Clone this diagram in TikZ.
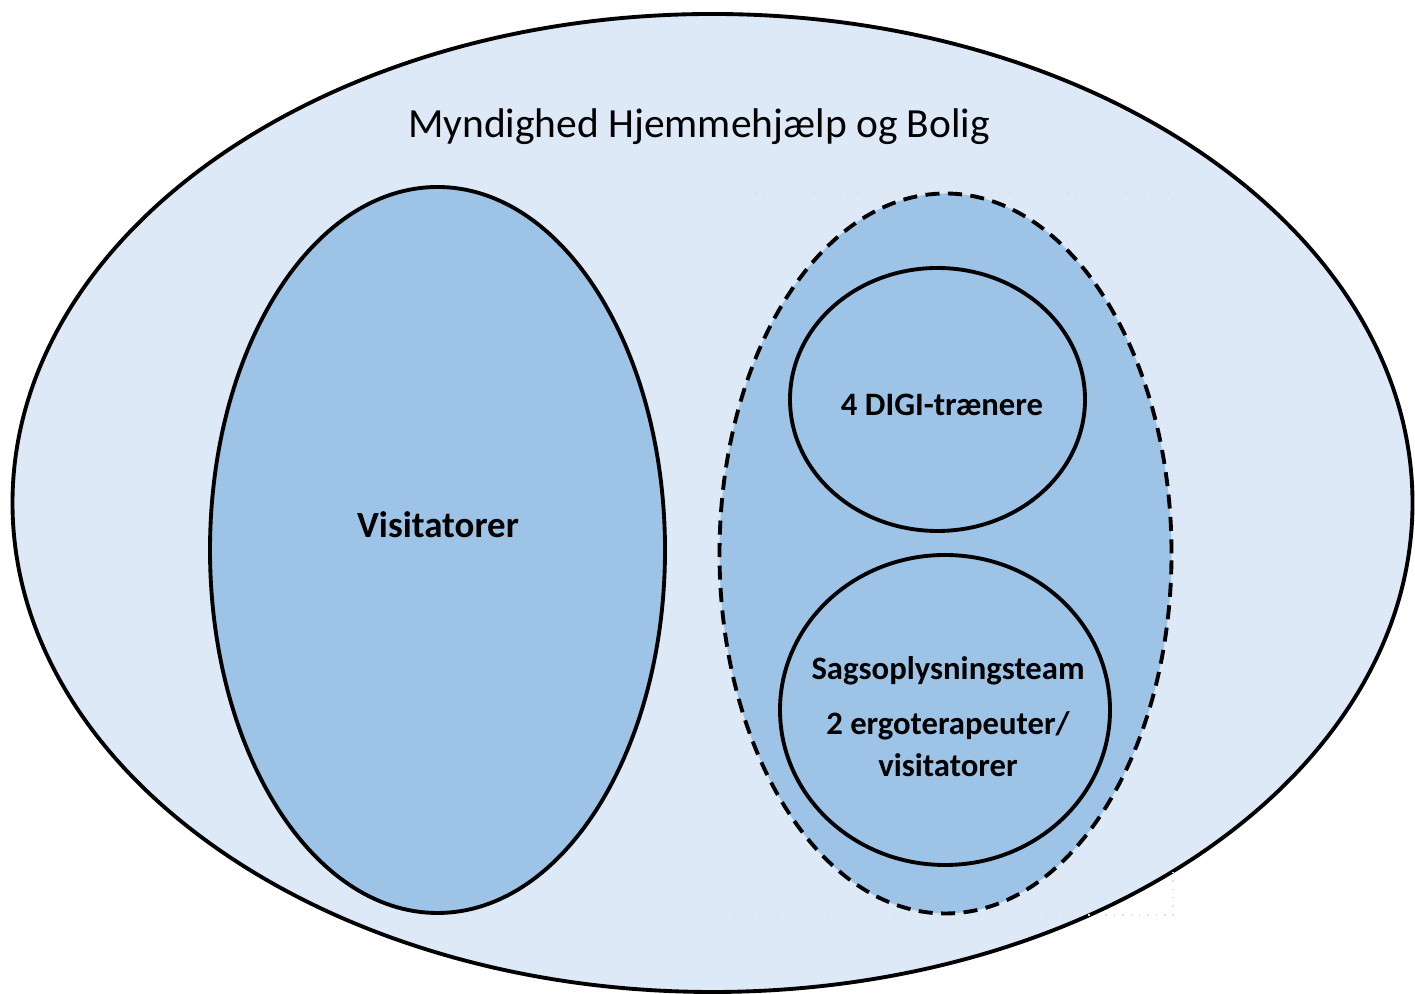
\documentclass[tikz,border=0pt]{standalone}
\usepackage{fontspec}
\setmainfont{Carlito}
\definecolor{lysblaa}{HTML}{DDE9F6}
\definecolor{mellemblaa}{HTML}{9DC3E6}
\newcommand{\lbl}{\fontsize{10.5}{13.5}\selectfont\bfseries}
\newcommand{\lille}{\fontsize{9.3}{13.4}\selectfont\bfseries}

\begin{document}
\begin{tikzpicture}
  \useasboundingbox (0,0) rectangle (14.15,9.94);
  \tikzset{ring/.style={draw=black,line width=1.1pt},
           stiplet/.style={ring,dash pattern=on 4pt off 2.4pt}}
  % ydre ellipse
  \draw[ring,fill=lysblaa] (7.125,4.91) ellipse (7.00 and 4.89);
  \draw[black!12,dotted] (7.18,0.79) rectangle (11.73,8.01);
  % venstre og hoejre
  \draw[ring,fill=mellemblaa] (4.375,4.44) ellipse (2.275 and 3.63);
  \draw[stiplet,fill=mellemblaa] (9.455,4.405) ellipse (2.26 and 3.60);
  \draw[ring] (9.375,5.945) ellipse (1.475 and 1.315);
  \draw[ring] (9.45,2.84) ellipse (1.65 and 1.55);
  % tekster
  \node (titel) at (6.99,8.67) {\fontsize{11.8}{14}\selectfont Myndighed Hjemmehjælp og Bolig};
  \node (visit) at (4.38,4.69) {\lbl Visitatorer};
  \node (digi)  at (9.42,5.89) {\lille 4 DIGI-trænere};
  \node[align=center] (sags) at (9.48,2.77)
    {\lille Sagsoplysningsteam\\[3.6pt]\lille 2 ergoterapeuter/\\\lille visitatorer};
\end{tikzpicture}
\end{document}
